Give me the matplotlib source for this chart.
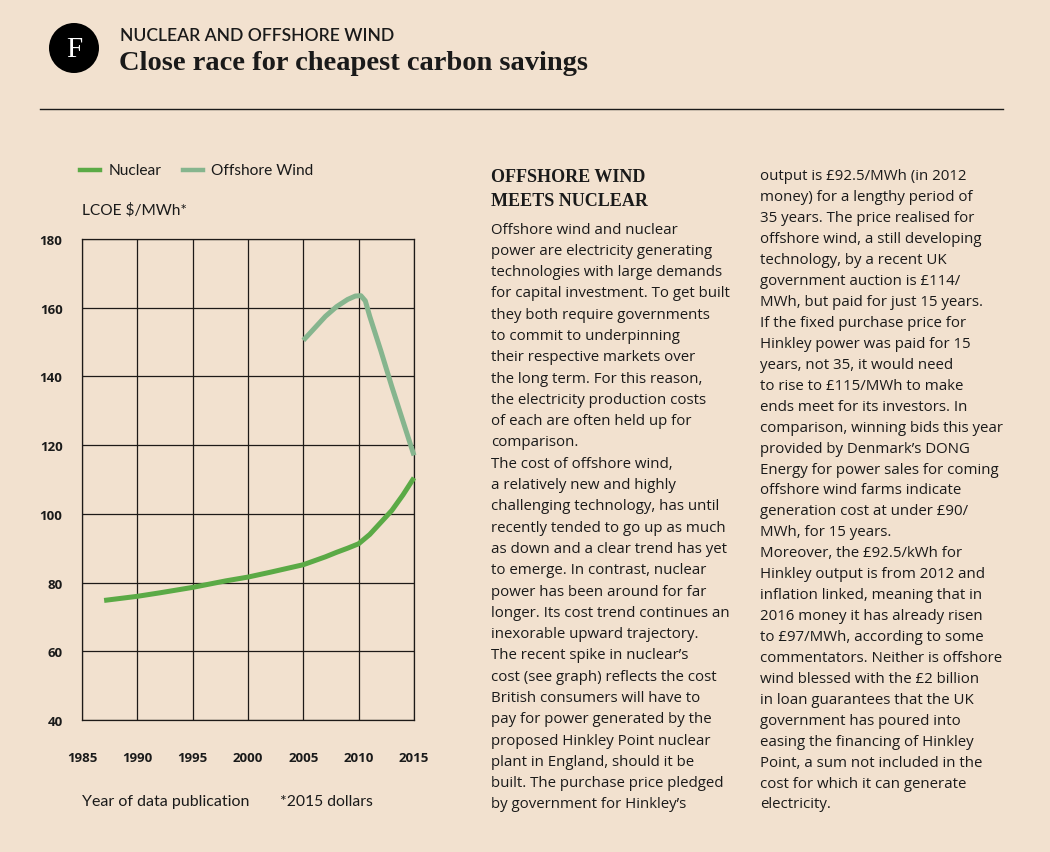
import matplotlib
matplotlib.use("Agg")
import matplotlib.pyplot as plt
from matplotlib.patches import Ellipse
from matplotlib.lines import Line2D

# ---- data ----
nuclear_years = [1987, 1988, 1990, 1992, 1995, 1998, 2000, 2002, 2005, 2007, 2008, 2009, 2010, 2011, 2012, 2013, 2014, 2015]
nuclear_lcoe = [74.8, 75.2, 76.0, 77.0, 78.6, 80.5, 81.6, 83.0, 85.2, 87.5, 88.8, 90.0, 91.3, 94.0, 97.5, 101.0, 105.5, 110.5]
wind_years = [2005, 2006, 2007, 2008, 2009, 2009.7, 2010.2, 2010.6, 2011, 2012, 2013, 2014, 2015]
wind_lcoe = [150.5, 154.0, 157.5, 160.3, 162.4, 163.4, 163.5, 162.0, 157.5, 147.5, 137.0, 127.0, 117.0]
x_ticks = [1985, 1990, 1995, 2000, 2005, 2010, 2015]
y_ticks = [40, 60, 80, 100, 120, 140, 160, 180]

series_names = ["Nuclear", "Offshore Wind"]

BG = "#F2E1CF"
NUC = "#5BAA46"
WIND = "#86B58E"
INK = "#1a1a1a"

W, H = 1050, 853
fig = plt.figure(figsize=(W / 100, H / 100), dpi=100, facecolor=BG)

def fx(px):
    return px / W

def fy(py):
    return 1 - py / H

# ---- header ----
circ = Ellipse((fx(74), fy(49)), width=50 / W, height=50 / H, transform=fig.transFigure,
               facecolor="black", edgecolor="none")
fig.patches.append(circ)
fig.text(fx(74), fy(50), "F", color="white", fontsize=21, family="Liberation Serif",
         ha="center", va="center")
fig.text(fx(120), fy(36), "NUCLEAR AND OFFSHORE WIND", fontsize=12.6, family="Lato",
         weight="semibold", color=INK, ha="left", va="center")
fig.text(fx(119), fy(64), "Close race for cheapest carbon savings", fontsize=20.5,
         family="Liberation Serif", weight="bold", color=INK, ha="left", va="center")
fig.add_artist(Line2D([fx(40), fx(1003)], [fy(110), fy(110)], transform=fig.transFigure,
                      color=INK, lw=1))

# ---- chart ----
ax = fig.add_axes([fx(82), fy(721), fx(414) - fx(82), fy(240) - fy(721)])
ax.set_facecolor(BG)
ax.plot(nuclear_years, nuclear_lcoe, color=NUC, lw=3.6, solid_capstyle="butt",
        solid_joinstyle="round", clip_on=False, zorder=3)
ax.plot(wind_years, wind_lcoe, color=WIND, lw=3.6, solid_capstyle="butt",
        solid_joinstyle="round", clip_on=False, zorder=3)
ax.set_xlim(1985, 2015)
ax.set_ylim(40, 180)
ax.set_xticks(x_ticks)
ax.set_yticks(y_ticks)
ax.grid(True, color="#1e1a18", lw=0.9)
ax.set_axisbelow(True)
for s in ax.spines.values():
    s.set_color("#1e1a18")
    s.set_linewidth(0.9)
ax.tick_params(length=0, labelsize=9.5, colors=INK)
ax.tick_params(axis="y", pad=14)
ax.tick_params(axis="x", pad=22)
for lab in ax.get_xticklabels() + ax.get_yticklabels():
    lab.set_fontweight("bold")
    lab.set_family("Open Sans")

# legend
fig.add_artist(Line2D([fx(80), fx(100)], [fy(171), fy(171)], transform=fig.transFigure,
                      color=NUC, lw=3.2))
fig.text(fx(109), fy(171), series_names[0], fontsize=11.2, family="Lato", color=INK,
         ha="left", va="center")
fig.add_artist(Line2D([fx(183), fx(203)], [fy(171), fy(171)], transform=fig.transFigure,
                      color=WIND, lw=3.2))
fig.text(fx(211), fy(171), series_names[1], fontsize=11.2, family="Lato", color=INK,
         ha="left", va="center")
fig.text(fx(82), fy(210), "LCOE $/MWh*", fontsize=11.2, family="Lato", color=INK,
         ha="left", va="center")
fig.text(fx(82), fy(802), "Year of data publication", fontsize=11.5, family="Lato",
         color=INK, ha="left", va="center")
fig.text(fx(280), fy(802), "*2015 dollars", fontsize=11.3, family="Lato", color=INK,
         ha="left", va="center")

# ---- article text ----
fig.text(fx(491), fy(177), "OFFSHORE WIND", fontsize=13, family="Liberation Serif",
         weight="bold", color=INK, ha="left", va="center")
fig.text(fx(491), fy(201), "MEETS NUCLEAR", fontsize=13, family="Liberation Serif",
         weight="bold", color=INK, ha="left", va="center")

col1 = [
    "Offshore wind and nuclear",
    "power are electricity generating",
    "technologies with large demands",
    "for capital investment. To get built",
    "they both require governments",
    "to commit to underpinning",
    "their respective markets over",
    "the long term. For this reason,",
    "the electricity production costs",
    "of each are often held up for",
    "comparison.",
    "The cost of offshore wind,",
    "a relatively new and highly",
    "challenging technology, has until",
    "recently tended to go up as much",
    "as down and a clear trend has yet",
    "to emerge. In contrast, nuclear",
    "power has been around for far",
    "longer. Its cost trend continues an",
    "inexorable upward trajectory.",
    "The recent spike in nuclear\u2019s",
    "cost (see graph) reflects the cost",
    "British consumers will have to",
    "pay for power generated by the",
    "proposed Hinkley Point nuclear",
    "plant in England, should it be",
    "built. The purchase price pledged",
    "by government for Hinkley\u2019s",
]
col2 = [
    "output is \u00a392.5/MWh (in 2012",
    "money) for a lengthy period of",
    "35 years. The price realised for",
    "offshore wind, a still developing",
    "technology, by a recent UK",
    "government auction is \u00a3114/",
    "MWh, but paid for just 15 years.",
    "If the fixed purchase price for",
    "Hinkley power was paid for 15",
    "years, not 35, it would need",
    "to rise to \u00a3115/MWh to make",
    "ends meet for its investors. In",
    "comparison, winning bids this year",
    "provided by Denmark\u2019s DONG",
    "Energy for power sales for coming",
    "offshore wind farms indicate",
    "generation cost at under \u00a390/",
    "MWh, for 15 years.",
    "Moreover, the \u00a392.5/kWh for",
    "Hinkley output is from 2012 and",
    "inflation linked, meaning that in",
    "2016 money it has already risen",
    "to \u00a397/MWh, according to some",
    "commentators. Neither is offshore",
    "wind blessed with the \u00a32 billion",
    "in loan guarantees that the UK",
    "government has poured into",
    "easing the financing of Hinkley",
    "Point, a sum not included in the",
    "cost for which it can generate",
    "electricity.",
]
y0, step = 230, (805 - 230) / 27
for i, line in enumerate(col1):
    fig.text(fx(491), fy(y0 + i * step), line, fontsize=10.8, family="Open Sans",
             color=INK, ha="left", va="center")
y0b, stepb = 177, (805 - 177) / 30
for i, line in enumerate(col2):
    fig.text(fx(760), fy(y0b + i * stepb), line, fontsize=10.8, family="Open Sans",
             color=INK, ha="left", va="center")

fig.savefig("out.png", dpi=100, facecolor=BG)
